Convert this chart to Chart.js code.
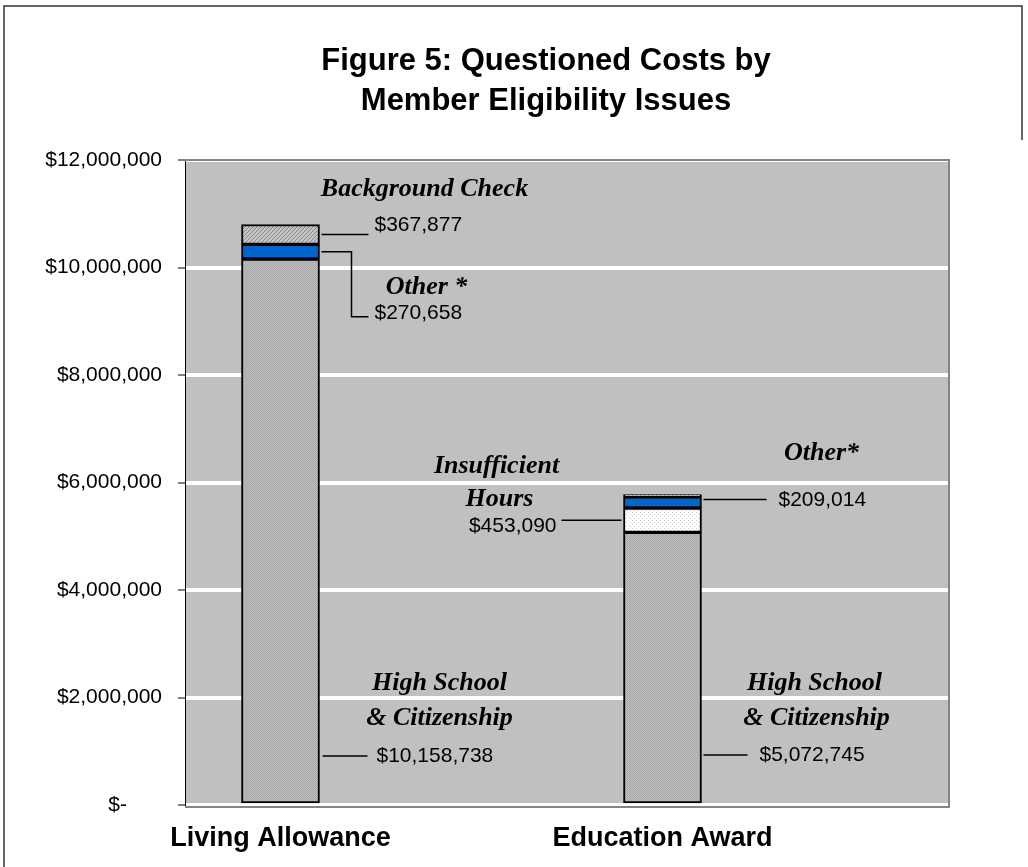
<!DOCTYPE html>
<html>
<head>
<meta charset="utf-8">
<title>Figure 5: Questioned Costs by Member Eligibility Issues</title>
<script src="https://cdn.jsdelivr.net/npm/chart.js@4/dist/chart.umd.min.js"></script>
<style>
  body { margin: 0; background: #ffffff; }
  #wrap { width: 1028px; height: 867px; }
</style>
</head>
<body>
<div id="wrap"><canvas id="costChart" width="1028" height="867"></canvas></div>
<script>
// chart values
const categories = ['Living Allowance', 'Education Award'];
const highSchool = [10158738, 5072745];
const insufficientHours = [null, 453090];
const otherIssues = [270658, 209014];
const backgroundCheck = [367877, 40000];
const yTicks = [0, 2000000, 4000000, 6000000, 8000000, 10000000, 12000000];

const SANS = '"Liberation Sans", Arial, sans-serif';
const SERIF = '"Liberation Serif", "Times New Roman", serif';

// small fill textures like the original print patterns
function makePattern(base, dot, size, dots) {
    const c = document.createElement('canvas');
    c.width = size; c.height = size;
    const g = c.getContext('2d');
    g.fillStyle = base;
    g.fillRect(0, 0, size, size);
    g.fillStyle = dot;
    dots.forEach(d => g.fillRect(d[0], d[1], 1, 1));
    return g.createPattern(c, 'repeat');
}

function makeHatch() {
    const c = document.createElement('canvas');
    c.width = 4; c.height = 4;
    const g = c.getContext('2d');
    g.fillStyle = '#c4c4c4';
    g.fillRect(0, 0, 4, 4);
    g.fillStyle = '#8a8a8a';
    g.fillRect(3, 0, 1, 1); g.fillRect(2, 1, 1, 1);
    g.fillRect(1, 2, 1, 1); g.fillRect(0, 3, 1, 1);
    return g.createPattern(c, 'repeat');
}

const grayDots = makePattern('#bdbdbd', '#a9a9a9', 2, [[0, 0], [1, 1]]);
const whiteDots = makePattern('#ffffff', '#d0d0d0', 4, [[0, 0], [2, 2]]);
const hatch = makeHatch();

function points(arr) {
    return arr.map((v, i) => ({ x: i, y: v }));
}

// grey plot area with darker border, like the spreadsheet chart
const plotBackground = {
    id: 'plotBackground',
    beforeDraw(chart) {
        const { ctx, chartArea: a } = chart;
        ctx.save();
        ctx.fillStyle = '#c0c0c0';
        ctx.fillRect(a.left, a.top, a.right - a.left, a.bottom - a.top);
        ctx.restore();
    },
    beforeDatasetsDraw(chart) {
        const { ctx, chartArea: a } = chart;
        ctx.save();
        ctx.strokeStyle = '#858585';
        ctx.lineWidth = 2;
        ctx.beginPath();
        ctx.moveTo(a.left, a.top);
        ctx.lineTo(a.right, a.top);
        ctx.lineTo(a.right, a.bottom + 2);
        ctx.lineTo(a.left, a.bottom + 2);
        ctx.stroke();
        ctx.restore();
    }
};

// title, frame, segment labels and leader lines
const annotations = {
    id: 'annotations',
    afterDraw(chart) {
        const ctx = chart.ctx;
        const el = (d, i) => chart.getDatasetMeta(d).data[i];
        const mid = (b) => (b.y + b.base) / 2;

        ctx.save();

        // outer frame
        ctx.strokeStyle = '#333333';
        ctx.lineWidth = 1.5;
        ctx.beginPath();
        ctx.moveTo(4, 867);
        ctx.lineTo(4, 6);
        ctx.lineTo(1022, 6);
        ctx.lineTo(1022, 140);
        ctx.stroke();

        // title
        ctx.fillStyle = '#000000';
        ctx.textAlign = 'center';
        ctx.textBaseline = 'middle';
        ctx.font = 'bold 31px ' + SANS;
        ctx.fillText('Figure 5: Questioned Costs by', 546, 61);
        ctx.fillText('Member Eligibility Issues', 546, 101);

        const italic = 'italic bold 26px ' + SERIF;
        const plain = '21px ' + SANS;

        function label(text, x, y, font, align) {
            ctx.font = font;
            ctx.textAlign = align || 'center';
            ctx.fillText(text, x, y);
        }
        function leader(pts) {
            ctx.beginPath();
            ctx.moveTo(pts[0][0], pts[0][1]);
            pts.slice(1).forEach(p => ctx.lineTo(p[0], p[1]));
            ctx.stroke();
        }

        ctx.strokeStyle = '#000000';
        ctx.lineWidth = 1.5;

        // Living Allowance
        const hs1 = el(0, 0), oth1 = el(2, 0), bg1 = el(3, 0);
        const r1 = hs1.x + hs1.width / 2;
        const bgY = mid(bg1), othY = mid(oth1);
        label('Background Check', r1 + 105, bg1.y - 35, italic);
        leader([[r1 + 2, bgY], [r1 + 49, bgY]]);
        label('$367,877', r1 + 55, bgY - 9, plain, 'left');
        label('Other *', r1 + 107, othY + 36, italic);
        leader([[r1 + 2, othY], [r1 + 32, othY], [r1 + 32, othY + 65], [r1 + 49, othY + 65]]);
        label('$270,658', r1 + 55, othY + 62, plain, 'left');
        label('High School', r1 + 120, hs1.base - 120, italic);
        label('& Citizenship', r1 + 120, hs1.base - 85, italic);
        leader([[r1 + 3, hs1.base - 47], [r1 + 48, hs1.base - 47]]);
        label('$10,158,738', r1 + 57, hs1.base - 47, plain, 'left');

        // Education Award
        const hs2 = el(0, 1), ins2 = el(1, 1), bg2 = el(3, 1);
        const l2 = hs2.x - hs2.width / 2, r2 = hs2.x + hs2.width / 2;
        const insY = mid(ins2);
        label('Insufficient', l2 - 127, insY - 54, italic);
        label('Hours', l2 - 124, insY - 21, italic);
        leader([[l2 - 2, insY], [l2 - 62, insY]]);
        label('$453,090', l2 - 67, insY + 6, plain, 'right');
        label('Other*', r2 + 120, bg2.y - 41, italic);
        leader([[r2 + 2, bg2.y + 5], [r2 + 65, bg2.y + 5]]);
        label('$209,014', r2 + 77, bg2.y + 6, plain, 'left');
        label('High School', r2 + 113, hs2.base - 120, italic);
        label('& Citizenship', r2 + 115, hs2.base - 85, italic);
        leader([[r2 + 2, hs2.base - 48], [r2 + 46, hs2.base - 48]]);
        label('$5,072,745', r2 + 58, hs2.base - 48, plain, 'left');

        ctx.restore();
    }
};

function barSet(label, values, fill) {
    return {
        label: label,
        data: points(values),
        backgroundColor: fill,
        borderColor: '#000000',
        borderWidth: 2,
        borderSkipped: false,
        barThickness: 78
    };
}

new Chart(document.getElementById('costChart').getContext('2d'), {
    type: 'bar',
    data: {
        datasets: [
            barSet('High School & Citizenship', highSchool, grayDots),
            barSet('Insufficient Hours', insufficientHours, whiteDots),
            barSet('Other *', otherIssues, '#0066cc'),
            barSet('Background Check', backgroundCheck, hatch)
        ]
    },
    options: {
        responsive: false,
        animation: false,
        layout: { padding: { left: 0, right: 79, top: 160, bottom: 0 } },
        plugins: {
            legend: { display: false },
            title: { display: false },
            tooltip: { enabled: false }
        },
        scales: {
            x: {
                type: 'linear',
                stacked: true,
                offset: false,
                min: -0.25,
                max: 1.75,
                grid: { display: false, drawTicks: false, offset: false },
                border: { display: false },
                afterBuildTicks: (s) => { s.ticks = categories.map((c, i) => ({ value: i })); },
                afterFit: (s) => { s.height = 62; },
                ticks: {
                    padding: 17,
                    color: '#000000',
                    font: { family: SANS, size: 27, weight: 'bold' },
                    callback: (v) => categories[v]
                }
            },
            y: {
                stacked: true,
                min: 0,
                max: 12000000,
                afterBuildTicks: (s) => { s.ticks = yTicks.map(v => ({ value: v })); },
                afterFit: (s) => { s.width = 185; },
                grid: {
                    color: '#ffffff',
                    lineWidth: 4,
                    tickColor: '#000000',
                    tickWidth: 1,
                    tickLength: 7
                },
                border: { display: true, color: '#000000', width: 1 },
                ticks: {
                    padding: 16,
                    color: '#000000',
                    font: { family: SANS, size: 21 },
                    callback: (v) => v === 0 ? '$-      ' : '$' + v.toLocaleString('en-US')
                }
            }
        }
    },
    plugins: [plotBackground, annotations]
});
</script>
</body>
</html>
